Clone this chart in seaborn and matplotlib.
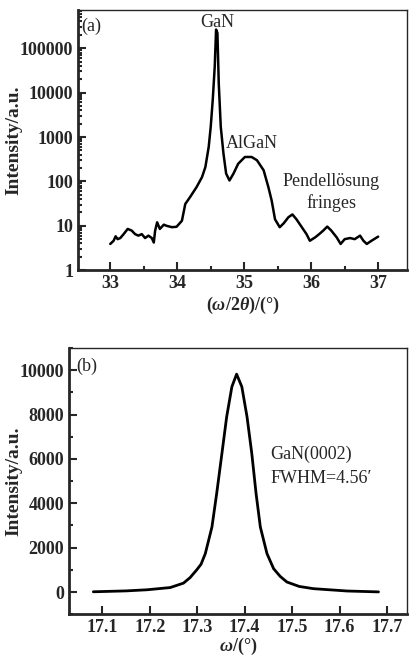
import numpy as np
import pandas as pd
import matplotlib
matplotlib.use('Agg')
import matplotlib.pyplot as plt
import seaborn as sns
from matplotlib.ticker import LogLocator, MultipleLocator, NullFormatter

# (a) omega/2theta scan, log intensity
scan_x = [33.00, 33.05, 33.08, 33.11, 33.15, 33.20, 33.26, 33.32, 33.37, 33.42, 33.47,
          33.52, 33.57, 33.62, 33.65, 33.67, 33.70, 33.74, 33.80, 33.84, 33.92, 33.99,
          34.07, 34.12, 34.19, 34.29, 34.37, 34.42, 34.47, 34.50, 34.53, 34.56, 34.58,
          34.60, 34.62, 34.65, 34.69, 34.73, 34.78, 34.84, 34.91, 35.01, 35.11, 35.19,
          35.29, 35.36, 35.41, 35.46, 35.53, 35.59, 35.66, 35.72, 35.78, 35.86, 35.93,
          35.98, 36.06, 36.12, 36.18, 36.24, 36.30, 36.38, 36.44, 36.50, 36.58, 36.65,
          36.73, 36.78, 36.83, 36.90, 37.00]
scan_y = [3.9, 4.6, 5.8, 5.0, 5.3, 6.5, 8.5, 7.8, 6.5, 6.0, 6.5,
          5.3, 6.0, 5.3, 4.2, 7.8, 12.0, 8.5, 10.6, 10.0, 9.3, 9.5,
          13.0, 31.0, 44.0, 75.0, 125.0, 210.0, 600.0, 1700.0, 6800.0, 39000.0, 263000.0,
          220000.0, 16000.0, 1700.0, 425.0, 150.0, 105.0, 150.0, 250.0, 355.0, 355.0, 300.0,
          178.0, 75.0, 37.0, 14.0, 9.3, 11.4, 15.6, 18.0, 14.0, 9.3, 6.5,
          4.6, 5.5, 6.5, 7.8, 9.6, 7.8, 5.5, 3.9, 5.0, 5.3, 5.0,
          6.0, 4.6, 3.9, 4.6, 5.7]

# (b) rocking curve
rock_x = [17.081, 17.150, 17.194, 17.243, 17.271, 17.285, 17.299, 17.308, 17.317,
          17.331, 17.341, 17.352, 17.362, 17.373, 17.383, 17.394, 17.405, 17.415,
          17.424, 17.433, 17.447, 17.461, 17.475, 17.489, 17.515, 17.545, 17.616, 17.682]
rock_y = [10, 50, 100, 200, 400, 650, 1000, 1250, 1730,
          2930, 4440, 6240, 7890, 9250, 9820, 9250, 7890, 6240,
          4440, 2930, 1730, 1050, 700, 450, 250, 150, 45, 5]

a_ticks = [1, 10, 100, 1000, 10000, 100000]
a_xticks = [33, 34, 35, 36, 37]
b_xticks = [17.1, 17.2, 17.3, 17.4, 17.5, 17.6, 17.7]
b_yticks = [0, 2000, 4000, 6000, 8000, 10000]

sns.set_style('ticks')
plt.rcParams['font.family'] = ['Liberation Serif', 'DejaVu Serif']
plt.rcParams['mathtext.fontset'] = 'custom'
plt.rcParams['mathtext.rm'] = 'Liberation Serif:bold'
plt.rcParams['mathtext.it'] = 'Liberation Serif:italic:bold'
plt.rcParams['mathtext.bf'] = 'Liberation Serif:bold'

fig = plt.figure(figsize=(4.09, 6.59), dpi=100)
ax1 = fig.add_axes([0.191, 0.590, 0.804, 0.395])
ax2 = fig.add_axes([0.169, 0.068, 0.826, 0.404])

df_a = pd.DataFrame({'x': scan_x, 'y': scan_y})
df_b = pd.DataFrame({'x': rock_x, 'y': rock_y})
sns.lineplot(data=df_a, x='x', y='y', ax=ax1, color='black', lw=1.8, sort=False, estimator=None)
sns.lineplot(data=df_b, x='x', y='y', ax=ax2, color='black', lw=2.0, sort=False, estimator=None)
for ax in (ax1, ax2):
    for ln in ax.get_lines():
        ln.set_solid_joinstyle('round')

fs = 13
for ax in (ax1, ax2):
    for s in ('left', 'bottom'):
        ax.spines[s].set_linewidth(2.0)
    for s in ('top', 'right'):
        ax.spines[s].set_linewidth(1.0)
    ax.tick_params(which='both', direction='in', labelsize=fs, width=1.5)
    ax.tick_params(which='major', length=6)
    ax.tick_params(which='minor', length=3)

ax1.set_yscale('log')
ax1.set_ylim(1, 7.3e5)
ax1.set_xlim(32.52, 37.43)
ax1.set_yticks(a_ticks)
ax1.set_yticklabels([str(t) for t in a_ticks], fontweight='bold', fontsize=fs)
ax1.yaxis.set_minor_locator(LogLocator(base=10, subs=np.arange(2, 10)))
ax1.yaxis.set_minor_formatter(NullFormatter())
ax1.set_xticks(a_xticks)
ax1.set_xticklabels([str(t) for t in a_xticks], fontweight='bold', fontsize=fs)
ax1.xaxis.set_minor_locator(MultipleLocator(0.5))
ax1.set_xlabel(r'($\omega$/2$\theta$)/(°)', fontsize=fs, fontweight='bold', labelpad=2)
ax1.set_ylabel('Intensity/a.u.', fontsize=14, fontweight='bold')
ax1.yaxis.set_label_coords(-0.170, 0.5)
ax1.text(0.01, 0.97, '(a)', transform=ax1.transAxes, fontsize=fs, va='top', ha='left')
ax1.text(34.6, 6.0e5, 'GaN', fontsize=fs, ha='center', va='top')
ax1.text(35.12, 700, 'AlGaN', fontsize=fs, ha='center', va='center')
ax1.text(36.3, 100, 'Pendellösung', fontsize=fs, ha='center', va='center')
ax1.text(36.3, 33, 'fringes', fontsize=fs, ha='center', va='center')

ax2.set_xlim(17.03, 17.742)
ax2.set_ylim(-1000, 11000)
ax2.set_xticks(b_xticks)
ax2.set_xticklabels([f'{t:.1f}' for t in b_xticks], fontweight='bold', fontsize=fs)
ax2.set_yticks(b_yticks)
ax2.set_yticklabels([str(t) for t in b_yticks], fontweight='bold', fontsize=fs)
ax2.yaxis.set_minor_locator(MultipleLocator(1000))
ax2.set_xlabel(r'$\omega$/(°)', fontsize=fs, fontweight='bold', labelpad=0)
ax2.set_ylabel('Intensity/a.u.', fontsize=14, fontweight='bold')
ax2.yaxis.set_label_coords(-0.139, 0.5)
ax2.text(0.02, 0.965, '(b)', transform=ax2.transAxes, fontsize=fs, va='top', ha='left')
ax2.text(17.454, 6200, 'GaN(0002)', fontsize=fs, ha='left', va='center')
ax2.text(17.454, 5100, "FWHM=4.56′", fontsize=fs, ha='left', va='center')

fig.savefig('out.png', dpi=100)
